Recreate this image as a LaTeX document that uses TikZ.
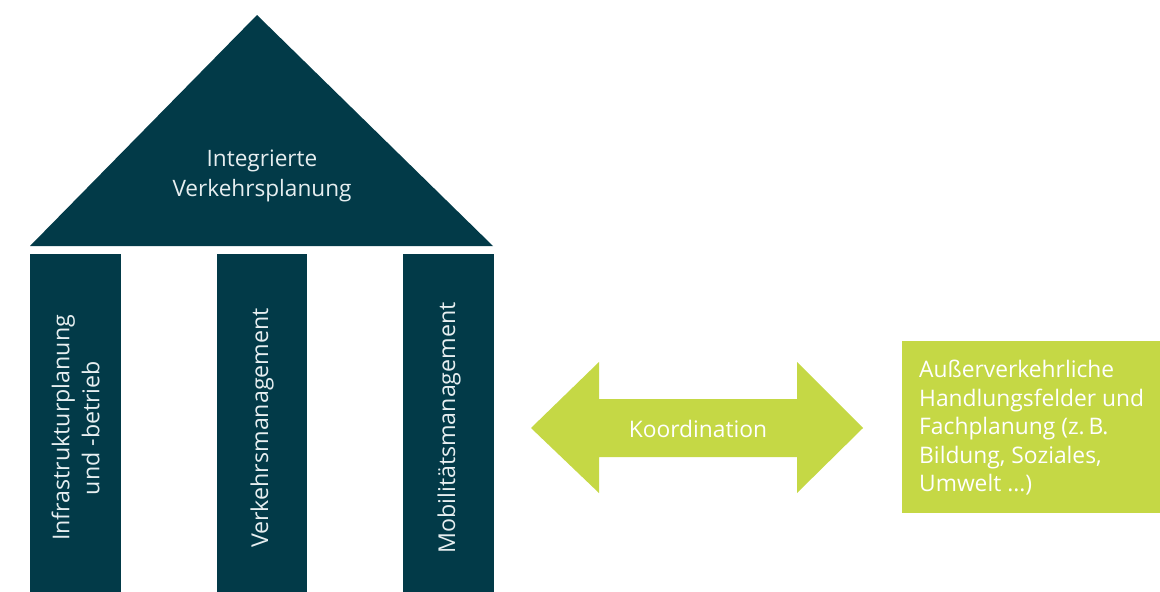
\documentclass[tikz,border=0pt]{standalone}
\usepackage{fontspec}
\setmainfont{Open Sans}
\definecolor{teal}{HTML}{023A48}
\definecolor{lime}{HTML}{C5D845}
\definecolor{paletext}{HTML}{E6EEF0}
\begin{document}
\begin{tikzpicture}[x=1pt,y=-1pt,
  pillar/.style={fill=teal,draw=none},
  pillartext/.style={rotate=90,text=paletext,font=\fontsize{23.2}{30}\selectfont,align=center,inner sep=0pt},
  lightlabel/.style={text=white,font=\fontsize{22.8}{28.5}\selectfont,inner sep=0pt}]
\useasboundingbox (0,0) rectangle (1160,592);
% roof
\fill[teal] (257,15) -- (493,246) -- (30,246) -- cycle;
\node[text=paletext,font=\fontsize{22.6}{30}\selectfont,align=center,inner sep=0pt] (roof) at (262,176) {Integrierte\\Verkehrsplanung};
% pillars
\fill[pillar] (30,254) rectangle (121,592);
\fill[pillar] (217,254) rectangle (307,592);
\fill[pillar] (403,254) rectangle (494,592);
\node[pillartext] (p1) at (75.5,428) {Infrastrukturplanung\\und -betrieb};
\node[pillartext] (p2) at (262,428) {Verkehrsmanagement};
\node[pillartext] (p3) at (449,428) {Mobilitätsmanagement};
% double arrow
\fill[lime] (531,428) -- (599,362) -- (599,399) -- (797,399) -- (797,362) -- (863,428)
  -- (797,493) -- (797,457) -- (599,457) -- (599,493) -- cycle;
\node[lightlabel] (koord) at (698,429) {Koordination};
% external field
\fill[lime] (902,341) rectangle (1160,513);
\node[lightlabel,anchor=west,align=left] (ext) at (919,428)
  {Außerverkehrliche\\Handlungsfelder und\\Fachplanung (z.\,B.\\Bildung, Soziales,\\Umwelt ...)};
\end{tikzpicture}
\end{document}
